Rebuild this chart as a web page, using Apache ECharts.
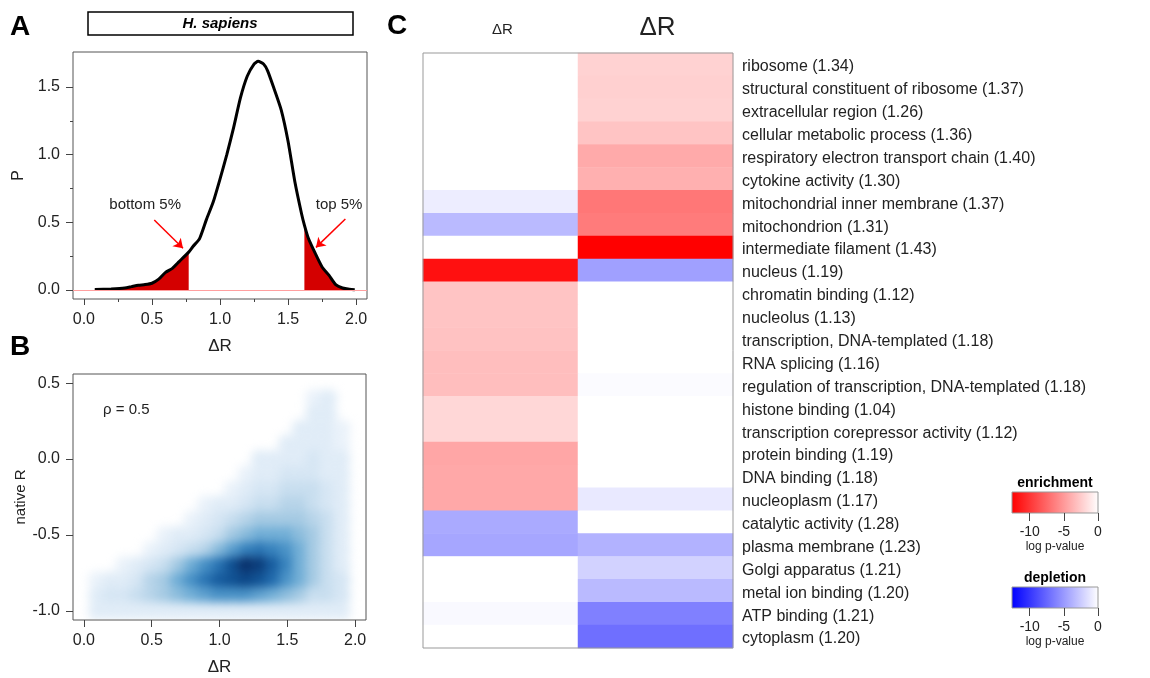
<!DOCTYPE html>
<html>
<head>
<meta charset="utf-8">
<script src="https://cdn.jsdelivr.net/npm/echarts@6/dist/echarts.min.js"></script>
<style>
  html, body { margin: 0; padding: 0; background: #fff; }
  #main { position: absolute; left: 0; top: 0; width: 1150px; height: 678px; }
  #densWrap { position: absolute; left: 74px; top: 375px; width: 291px; height: 244px; overflow: hidden; }
  #dens { position: absolute; left: -1px; top: -1px; width: 293px; height: 246px; filter: blur(5px); }
</style>
</head>
<body>
<div id="main"></div>
<div id="densWrap"><div id="dens"></div></div>
<script>
// panel A: density of delta R
var densityX = [0.08, 0.2, 0.3, 0.35, 0.4, 0.45, 0.5, 0.55, 0.6, 0.65, 0.7, 0.77, 0.8, 0.85, 0.9, 0.95, 1.0, 1.05, 1.1, 1.15, 1.2, 1.25, 1.28, 1.32, 1.35, 1.4, 1.45, 1.5, 1.55, 1.6, 1.62, 1.65, 1.7, 1.75, 1.8, 1.85, 1.9, 1.95, 1.99];
var densityY = [0.003, 0.008, 0.015, 0.025, 0.035, 0.04, 0.05, 0.08, 0.13, 0.16, 0.21, 0.28, 0.32, 0.38, 0.52, 0.65, 0.82, 1.0, 1.2, 1.42, 1.58, 1.67, 1.69, 1.67, 1.62, 1.48, 1.33, 1.1, 0.8, 0.56, 0.48, 0.38, 0.27, 0.17, 0.11, 0.04, 0.015, 0.005, 0.002];
var bottomCut = 0.77;
var topCut = 1.62;
var aXTicks = [0, 0.5, 1, 1.5, 2];
var aXMinor = [0.25, 0.75, 1.25, 1.75];
var aYTicks = [0, 0.5, 1, 1.5];
var aYMinor = [0.25, 0.75, 1.25];

// panel B: 2d density of delta R vs native R (rows = native R, cols = delta R)
var bCols = [0.1, 0.2, 0.3, 0.4, 0.5, 0.6, 0.7, 0.8, 0.9, 1.0, 1.1, 1.2, 1.3, 1.4, 1.5, 1.6, 1.7, 1.8, 1.9];
var bRows = [0.4, 0.3, 0.2, 0.1, 0.0, -0.1, -0.2, -0.3, -0.4, -0.5, -0.6, -0.7, -0.8, -0.9, -1.0];
var bDensity = [
  [0, 0, 0, 0, 0, 0, 0, 0, 0, 0, 0, 0, 0, 0, 0, 0, 0.5, 1, 0],
  [0, 0, 0, 0, 0, 0, 0, 0, 0, 0, 0, 0, 0, 0, 0, 0, 1, 1, 0],
  [0, 0, 0, 0, 0, 0, 0, 0, 0, 0, 0, 0, 0, 0, 0, 1, 1, 1, 0.5],
  [0, 0, 0, 0, 0, 0, 0, 0, 0, 0, 0, 0, 0, 0, 1, 1, 1, 1, 0.5],
  [0, 0, 0, 0, 0, 0, 0, 0, 0, 0, 0, 0, 1, 1, 1, 1, 1.5, 1, 1],
  [0, 0, 0, 0, 0, 0, 0, 0, 0, 0, 0, 0.5, 1, 1, 1.5, 1.5, 1.5, 1, 1],
  [0, 0, 0, 0, 0, 0, 0, 0, 0, 0, 0.5, 1, 1.5, 1.5, 2, 2, 2, 1.5, 1],
  [0, 0, 0, 0, 0, 0, 0, 0, 0.5, 1, 1, 1.5, 2, 2, 2.5, 2.5, 2, 1.5, 1],
  [0, 0, 0, 0, 0, 0, 0, 0.5, 1, 1.5, 2, 2.5, 3, 3, 3, 3, 2.5, 2, 1],
  [0, 0, 0, 0, 0, 0.5, 1, 1, 1.5, 2, 3, 3.5, 4, 4, 4, 3.5, 3, 2, 1],
  [0, 0, 0, 0, 0.5, 1, 1.5, 2, 2.5, 3.5, 4.5, 5.5, 6, 5.5, 5, 4, 3, 2, 1],
  [0, 0, 0.5, 1, 1.5, 2, 3, 4, 5, 6, 7.5, 9, 8.5, 7, 5.5, 4, 3, 2, 1],
  [0.5, 1, 1, 1.5, 2.5, 3, 4, 5, 6, 7, 7.5, 8, 7.5, 6.5, 5, 4, 3, 2, 1.5],
  [1, 1.5, 1.5, 2, 2.5, 3, 3.5, 4, 4.5, 5, 5, 5, 4.5, 4, 3.5, 3, 2, 2, 1.5],
  [1, 1, 1, 1, 1, 1, 1, 1, 1, 1, 1, 1, 1, 1, 1, 1, 1, 1, 1]
];
var bXTicks = [0, 0.5, 1, 1.5, 2];
var bYTicks = [-1, -0.5, 0, 0.5];

// panel C: GO term enrichment (+) / depletion (-), as -log p-value
var goTerms = [
  'ribosome (1.34)', 'structural constituent of ribosome (1.37)', 'extracellular region (1.26)',
  'cellular metabolic process (1.36)', 'respiratory electron transport chain (1.40)', 'cytokine activity (1.30)',
  'mitochondrial inner membrane (1.37)', 'mitochondrion (1.31)', 'intermediate filament (1.43)',
  'nucleus (1.19)', 'chromatin binding (1.12)', 'nucleolus (1.13)', 'transcription, DNA-templated (1.18)',
  'RNA splicing (1.16)', 'regulation of transcription, DNA-templated (1.18)', 'histone binding (1.04)',
  'transcription corepressor activity (1.12)', 'protein binding (1.19)', 'DNA binding (1.18)',
  'nucleoplasm (1.17)', 'catalytic activity (1.28)', 'plasma membrane (1.23)', 'Golgi apparatus (1.21)',
  'metal ion binding (1.20)', 'ATP binding (1.21)', 'cytoplasm (1.20)'
];
var colNames = ['ΔR', 'ΔR'];
var bottomScore = [0, 0, 0, 0, 0, 0, -0.9, -3.4, 0, 11.8, 2.9, 2.9, 3.0, 3.2, 3.2, 2.0, 2.0, 4.4, 4.3, 4.3, -4.2, -4.4, 0, 0, -0.3, 0];
var topScore = [2.2, 2.3, 2.2, 2.9, 4.2, 3.9, 6.7, 6.5, 12.6, -4.7, 0, 0, 0, 0, -0.2, 0, 0, 0, 0, -1.1, 0, -3.8, -2.2, -3.4, -6.3, -7.1];
var scoreMax = 12.6;
var legendTicks = [-10, -5, 0];

var FONT = 'Liberation Sans, Arial, Helvetica, sans-serif';
var TXT = '#222';

var chart = echarts.init(document.getElementById('main'));
var dens = echarts.init(document.getElementById('dens'));

var curve = densityX.map(function (x, i) { return [x, densityY[i]]; });
var lowTail = curve.filter(function (p) { return p[0] <= bottomCut; });
var highTail = curve.filter(function (p) { return p[0] >= topCut; });

var bData = [];
bRows.forEach(function (y, r) {
  bCols.forEach(function (x, c) {
    var v = bDensity[r][c];
    if (v > 0) bData.push([x, y, v]);
  });
});

var cData = [];
goTerms.forEach(function (t, i) {
  cData.push([0, i, bottomScore[i]]);
  cData.push([1, i, topScore[i]]);
});

function fmt1(v) { return v.toFixed(1); }

function valueAxis(grid, pos, min, max, ticks, len, showLabel) {
  return {
    type: 'value', gridIndex: grid, position: pos, min: min, max: max,
    axisLine: { show: false, onZero: false },
    splitLine: { show: false },
    axisTick: { show: true, customValues: ticks, length: len, lineStyle: { color: '#444' } },
    axisLabel: { show: showLabel, customValues: ticks, formatter: fmt1, color: TXT, fontSize: 16, fontFamily: FONT, margin: 13 }
  };
}

function legendAxis(grid) {
  var ax = valueAxis(grid, 'bottom', -scoreMax, 0, legendTicks, 8, true);
  ax.axisLabel.fontSize = 14;
  ax.axisLabel.margin = 12;
  ax.axisLabel.formatter = function (v) { return String(v); };
  ax.name = 'log p-value';
  ax.nameLocation = 'middle';
  ax.nameGap = 28;
  ax.nameTextStyle = { color: TXT, fontSize: 12, fontFamily: FONT };
  return ax;
}

var xA = valueAxis(0, 'bottom', -0.08, 2.08, aXTicks, 6, true);
xA.name = 'ΔR'; xA.nameLocation = 'middle'; xA.nameGap = 39;
xA.nameTextStyle = { color: TXT, fontSize: 17, fontFamily: FONT };
var xAm = valueAxis(0, 'bottom', -0.08, 2.08, aXMinor, 3, false);
var yA = valueAxis(0, 'left', -0.0665, 1.759, aYTicks, 7, true);
yA.name = 'P'; yA.nameLocation = 'middle'; yA.nameGap = 46;
yA.nameTextStyle = { color: TXT, fontSize: 16, fontFamily: FONT };
var yAm = valueAxis(0, 'left', -0.0665, 1.759, aYMinor, 3, false);

var xB = valueAxis(1, 'bottom', -0.08, 2.08, bXTicks, 7, true);
xB.name = 'ΔR'; xB.nameLocation = 'middle'; xB.nameGap = 39;
xB.nameTextStyle = { color: TXT, fontSize: 17, fontFamily: FONT };
var yB = valueAxis(1, 'left', -1.06, 0.56, bYTicks, 7, true);
yB.name = 'native R'; yB.nameLocation = 'middle'; yB.nameGap = 45;
yB.nameTextStyle = { color: TXT, fontSize: 15, fontFamily: FONT };

var option = {
  animation: false,
  backgroundColor: '#fff',
  grid: [
    { left: 73, top: 52, width: 294, height: 247, show: true, borderColor: '#555', borderWidth: 1 },
    { left: 73, top: 374, width: 293, height: 246, show: true, borderColor: '#555', borderWidth: 1 },
    { left: 423, top: 53, width: 310, height: 595 },
    { left: 1012, top: 492, width: 86, height: 21 },
    { left: 1012, top: 587, width: 86, height: 21 }
  ],
  xAxis: [
    xA, xAm, xB,
    {
      type: 'category', gridIndex: 2, position: 'top', data: colNames,
      axisLine: { show: false }, axisTick: { show: false },
      axisLabel: {
        margin: 12, color: TXT, fontFamily: FONT,
        formatter: function (v, i) { return i === 0 ? '{s|' + v + '}' : '{b|' + v + '}'; },
        rich: {
          s: { fontSize: 15, fontFamily: FONT, color: TXT, padding: [0, 0, 4, 4] },
          b: { fontSize: 26, fontFamily: FONT, color: TXT, padding: [0, 0, 0, 4] }
        }
      }
    },
    legendAxis(3), legendAxis(4)
  ],
  yAxis: [
    yA, yAm, yB,
    {
      type: 'category', gridIndex: 2, position: 'right', inverse: true, data: goTerms,
      axisLine: { show: false }, axisTick: { show: false },
      axisLabel: {
        align: 'left', margin: 9, color: TXT, fontSize: 16, fontFamily: FONT,
        formatter: function (v) { return '{t|' + v + '}'; },
        rich: { t: { fontSize: 16, fontFamily: FONT, color: TXT, padding: [5, 0, 0, 0] } }
      }
    },
    { type: 'value', gridIndex: 3, show: false, min: 0, max: 1 },
    { type: 'value', gridIndex: 4, show: false, min: 0, max: 1 }
  ],
  visualMap: [
    {
      type: 'continuous', show: false, seriesIndex: 4, dimension: 2,
      min: -scoreMax, max: scoreMax,
      inRange: { color: ['#0000ff', '#ffffff', '#ff0000'] }
    }
  ],
  series: [
    {
      type: 'line', xAxisIndex: 0, yAxisIndex: 0, data: lowTail, symbol: 'none',
      lineStyle: { width: 0 }, areaStyle: { color: '#d40000', opacity: 1 }, z: 2
    },
    {
      type: 'line', xAxisIndex: 0, yAxisIndex: 0, data: highTail, symbol: 'none',
      lineStyle: { width: 0 }, areaStyle: { color: '#d40000', opacity: 1 }, z: 2
    },
    {
      type: 'line', xAxisIndex: 0, yAxisIndex: 0, data: curve, symbol: 'none', smooth: 0.2,
      lineStyle: { color: '#000', width: 3 }, z: 3,
      markLine: {
        silent: true, animation: false,
        label: { show: false },
        data: [
          [{ coord: [-0.08, 0], symbol: 'none', lineStyle: { color: '#ff9f9f', width: 1, type: 'solid' } },
           { coord: [2.08, 0], symbol: 'none' }],
          [{ coord: [0.517, 0.517], symbol: 'none', lineStyle: { color: '#ff0000', width: 1.5, type: 'solid' } },
           { coord: [0.728, 0.308], symbol: 'arrow', symbolSize: 9 }],
          [{ coord: [1.921, 0.525], symbol: 'none', lineStyle: { color: '#ff0000', width: 1.5, type: 'solid' } },
           { coord: [1.705, 0.315], symbol: 'arrow', symbolSize: 9 }]
        ]
      },
      markPoint: {
        silent: true, symbol: 'circle', symbolSize: 1, itemStyle: { color: 'rgba(0,0,0,0)' },
        label: { show: true, position: 'inside', formatter: '{b}', color: TXT, fontSize: 15, fontFamily: FONT },
        data: [
          { name: 'bottom 5%', coord: [0.45, 0.63] },
          { name: 'top 5%', coord: [1.875, 0.63] }
        ]
      }
    },
    {
      // keeps panel B axes alive; the density itself is drawn in the blurred overlay
      type: 'scatter', xAxisIndex: 2, yAxisIndex: 2, data: [], symbolSize: 0
    },
    {
      type: 'heatmap', xAxisIndex: 3, yAxisIndex: 3, data: cData,
      itemStyle: { borderWidth: 0 }
    }
  ],
  graphic: [
    { type: 'text', left: 10, top: 13, style: { text: 'A', font: 'bold 28px ' + FONT, fill: '#000' } },
    { type: 'text', left: 10, top: 333, style: { text: 'B', font: 'bold 28px ' + FONT, fill: '#000' } },
    { type: 'text', left: 387, top: 12, style: { text: 'C', font: 'bold 28px ' + FONT, fill: '#000' } },
    { type: 'rect', shape: { x: 88, y: 12, width: 265, height: 23 }, style: { fill: '#fff', stroke: '#000', lineWidth: 1.5 } },
    { type: 'text', x: 220, y: 24, style: { text: 'H. sapiens', font: 'italic bold 15px ' + FONT, fill: '#000', align: 'center', verticalAlign: 'middle' } },
    { type: 'rect', z: 10, shape: { x: 423, y: 53, width: 310, height: 595 }, style: { fill: 'none', stroke: '#999', lineWidth: 1 } },
    { type: 'text', x: 1055, y: 483, style: { text: 'enrichment', font: 'bold 14px ' + FONT, fill: '#000', align: 'center', verticalAlign: 'middle' } },
    {
      type: 'rect', shape: { x: 1012, y: 492, width: 86, height: 21 },
      style: { fill: new echarts.graphic.LinearGradient(0, 0, 1, 0, [{ offset: 0, color: '#ff0000' }, { offset: 1, color: '#ffffff' }]), stroke: '#999', lineWidth: 1 }
    },
    { type: 'text', x: 1055, y: 578, style: { text: 'depletion', font: 'bold 14px ' + FONT, fill: '#000', align: 'center', verticalAlign: 'middle' } },
    {
      type: 'rect', shape: { x: 1012, y: 587, width: 86, height: 21 },
      style: { fill: new echarts.graphic.LinearGradient(0, 0, 1, 0, [{ offset: 0, color: '#0000ff' }, { offset: 1, color: '#ffffff' }]), stroke: '#999', lineWidth: 1 }
    }
  ]
};

chart.setOption(option);

// panel B density, same axis ranges as panel B, drawn in a blurred layer
dens.setOption({
  animation: false,
  grid: { left: 0, right: 0, top: 0, bottom: 0 },
  xAxis: { type: 'value', min: -0.08, max: 2.08, show: false },
  yAxis: { type: 'value', min: -1.06, max: 0.56, show: false },
  visualMap: {
    type: 'continuous', show: false, dimension: 2, min: 0.5, max: 9,
    inRange: { color: ['#eaf2fa', '#d2e3f3', '#a9cce4', '#6aaad4', '#3a86c0', '#1c66aa', '#0b4a8c', '#08306b'] }
  },
  series: [{
    type: 'scatter', data: bData, symbol: 'circle', symbolSize: 19,
    itemStyle: { opacity: 1 }, clip: false
  }]
});

// rho annotation above the blurred layer
var rho = document.createElement('div');
rho.textContent = 'ρ = 0.5';
rho.style.cssText = 'position:absolute;left:103px;top:400px;font:15px ' + FONT + ';color:' + TXT + ';';
document.body.appendChild(rho);
</script>
</body>
</html>
